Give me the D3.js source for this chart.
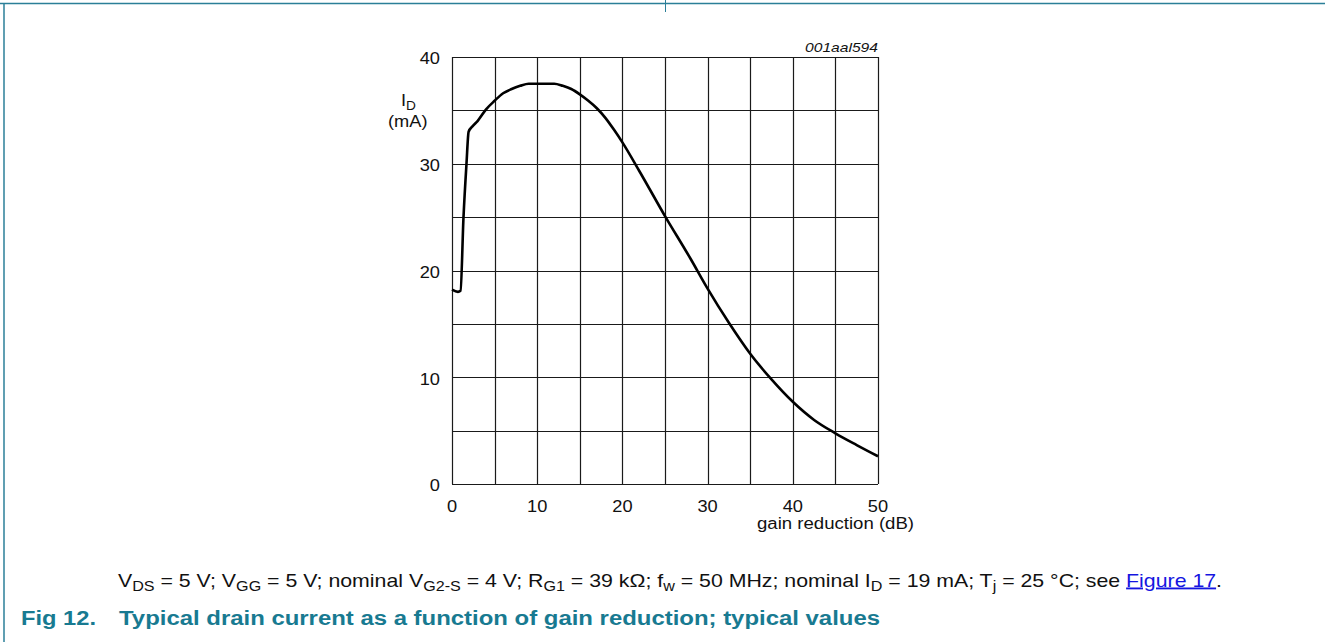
<!DOCTYPE html>
<html>
<head>
<meta charset="utf-8">
<script src="https://cdn.jsdelivr.net/npm/d3@7"></script>
<style>
  body { margin: 0; background: #fff; }
  svg text { font-family: "Liberation Sans", Arial, sans-serif; }
</style>
</head>
<body>
<svg id="chart" width="1325" height="642"></svg>
<script>
// gain reduction (dB) vs drain current (mA)
const gainReduction = [0, 0.7, 1.0, 1.35, 1.7, 1.95, 2.4, 3.0, 4.0, 5.0, 6.0, 7.0, 8.0, 9.0,
  10, 11, 12, 13, 14, 15, 16, 17, 18, 19, 20, 22, 25, 28, 30, 32.5, 35, 37.5, 40, 42.5, 45, 47.5, 50];
const drainCurrent = [18.2, 18.0, 18.1, 25, 30, 33.0, 33.5, 34.0, 35.1, 35.9, 36.6, 37.0, 37.3, 37.5,
  37.5, 37.5, 37.5, 37.3, 37.0, 36.5, 35.9, 35.2, 34.3, 33.2, 32.0, 29.3, 25.1, 21.1, 18.3, 15.1, 12.2, 9.8, 7.7, 6.0, 4.75, 3.65, 2.6];

const xTicks = [0, 10, 20, 30, 40, 50];
const yTicks = [0, 10, 20, 30, 40];
const xGrid = d3.range(0, 51, 5);
const yGrid = d3.range(0, 41, 5);

const svg = d3.select("#chart");
const borderColour = "#2b7f98";
const titleColour = "#187a91";
const sx = 1.14; // the source text is a little wider than Liberation Sans

// place a horizontally widened text at (px, py)
function wideText(px, py, size, anchor) {
  return svg.append("text")
    .attr("transform", `translate(${px},${py}) scale(${sx},1)`)
    .attr("text-anchor", anchor || "start")
    .attr("font-size", size).attr("fill", "#111");
}

// page frame lines
svg.append("line").attr("x1", 0).attr("x2", 1325).attr("y1", 3.5).attr("y2", 3.5)
  .attr("stroke", borderColour).attr("stroke-width", 1.5);
svg.append("line").attr("x1", 4).attr("x2", 4).attr("y1", 3).attr("y2", 642)
  .attr("stroke", borderColour).attr("stroke-width", 1.5);
svg.append("line").attr("x1", 665.5).attr("x2", 665.5).attr("y1", 0).attr("y2", 12)
  .attr("stroke", borderColour).attr("stroke-width", 1);

const x = d3.scaleLinear().domain([0, 50]).range([452, 878]);
const y = d3.scaleLinear().domain([0, 40]).range([484, 57]);

// grid
const g = svg.append("g");
g.selectAll(".vg").data(xGrid).join("line")
  .attr("x1", d => Math.round(x(d)) + 0.5).attr("x2", d => Math.round(x(d)) + 0.5)
  .attr("y1", y(40)).attr("y2", y(0))
  .attr("stroke", "#1a1a1a").attr("stroke-width", 1.2);
g.selectAll(".hg").data(yGrid).join("line")
  .attr("y1", d => Math.round(y(d)) + 0.5).attr("y2", d => Math.round(y(d)) + 0.5)
  .attr("x1", x(0)).attr("x2", x(50))
  .attr("stroke", "#1a1a1a").attr("stroke-width", 1.2);

// tick labels
xTicks.forEach(d => wideText(x(d), 512, 16, "middle").text(d));
yTicks.forEach(d => wideText(440, y(d) + 7.3, 16, "end").text(d));

// axis titles
const yt = wideText(401, 106, 16);
yt.append("tspan").text("I");
yt.append("tspan").attr("font-size", 12).attr("dy", 4).text("D");
wideText(388, 127, 16).text("(mA)");
svg.append("text").attr("x", 757).attr("y", 529)
  .attr("font-size", 16).attr("fill", "#111")
  .attr("textLength", 157).attr("lengthAdjust", "spacingAndGlyphs")
  .text("gain reduction (dB)");
svg.append("text").attr("x", 805).attr("y", 51.5)
  .attr("font-size", 13.5).attr("font-style", "italic").attr("fill", "#111")
  .attr("textLength", 73).attr("lengthAdjust", "spacingAndGlyphs")
  .text("001aal594");

// curve
const pts = gainReduction.map((d, i) => [d, drainCurrent[i]]);
const line = d3.line().x(d => x(d[0])).y(d => y(d[1])).curve(d3.curveMonotoneX);
svg.append("path").datum(pts).attr("d", line)
  .attr("fill", "none").attr("stroke", "#000").attr("stroke-width", 2.6)
  .attr("stroke-linejoin", "round");

// caption with subscripts
const caption = svg.append("text").attr("x", 118).attr("y", 586.5).attr("font-size", 18.5).attr("fill", "#111")
  .attr("textLength", 1104).attr("lengthAdjust", "spacingAndGlyphs");
const parts = [
  ["V"], ["DS", "sub"], [" = 5 V; V"], ["GG", "sub"], [" = 5 V; nominal V"], ["G2-S", "sub"],
  [" = 4 V; R"], ["G1", "sub"], [" = 39 k\u03A9; f"], ["w", "sub"], [" = 50 MHz; nominal I"], ["D", "sub"],
  [" = 19 mA; T"], ["j", "sub"], [" = 25 \u00B0C; see "], ["Figure 17", "link"], ["."]
];
parts.forEach(p => {
  const t = caption.append("tspan").text(p[0]);
  if (p[1] === "sub") t.attr("font-size", 14).attr("baseline-shift", "-4");
  if (p[1] === "link") t.attr("fill", "#1515e0").attr("text-decoration", "underline");
});

// figure title
svg.append("text").attr("x", 21).attr("y", 625).attr("font-size", 19.5).attr("font-weight", "bold")
  .attr("fill", titleColour).attr("textLength", 75).attr("lengthAdjust", "spacingAndGlyphs")
  .text("Fig 12.");
svg.append("text").attr("x", 119).attr("y", 625).attr("font-size", 19.5).attr("font-weight", "bold")
  .attr("fill", titleColour).attr("textLength", 761).attr("lengthAdjust", "spacingAndGlyphs")
  .text("Typical drain current as a function of gain reduction; typical values");
</script>
</body>
</html>
